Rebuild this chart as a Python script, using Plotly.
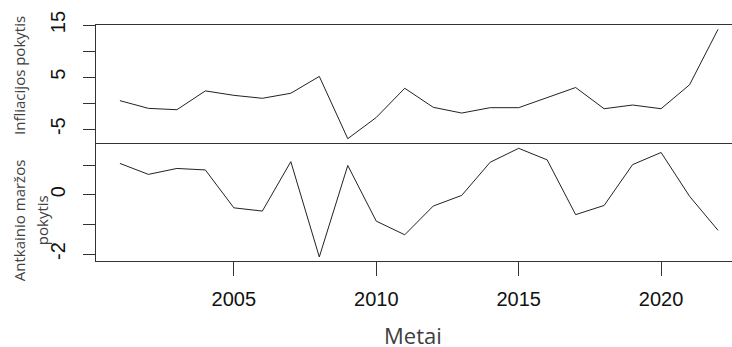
import plotly.graph_objects as go

# Annual series, 2001-2022
years = list(range(2001, 2023))
infliacija = [0.48, -1.0, -1.26, 2.35, 1.5, 0.93, 1.9, 5.13, -6.82, -2.75, 2.86,
              -0.8, -1.9, -0.87, -0.87, 1.12, 3.0, -1.07, -0.36, -1.07, 3.52, 14.17]
antkainis = [1.06, 0.69, 0.89, 0.84, -0.44, -0.55, 1.12, -2.1, 0.99, -0.89, -1.35,
             -0.38, -0.02, 1.1, 1.57, 1.18, -0.67, -0.36, 1.02, 1.43, -0.05, -1.2]

x_ticks = [2005, 2010, 2015, 2020]
top_ticks = [-5, 0, 5, 10, 15]
top_labels = ["-5", "", "5", "", "15"]
bot_ticks = [-2, -1, 0, 1]
bot_labels = ["-2", "", "0", ""]

line_col = "#333333"
tick_font = dict(family="Liberation Sans, Arial", size=20, color="#111111")
title_font = dict(family="Open Sans, Noto Sans", size=15, color="#404040")

fig = go.Figure()
fig.add_trace(go.Scatter(x=years, y=infliacija, mode="lines",
                         line=dict(color="#222222", width=1), xaxis="x2", yaxis="y2"))
fig.add_trace(go.Scatter(x=years, y=antkainis, mode="lines",
                         line=dict(color="#222222", width=1), xaxis="x", yaxis="y"))

xr = [2000.16, 2022.49]
fig.update_layout(
    width=732, height=347,
    margin=dict(l=96, r=0, t=25, b=86),
    paper_bgcolor="white", plot_bgcolor="white",
    showlegend=False,
    xaxis=dict(domain=[0, 1], range=xr, anchor="y", showgrid=False, zeroline=False,
               showline=True, linecolor=line_col, linewidth=1, mirror=False,
               ticks="outside", ticklen=14, tickcolor=line_col, tickvals=x_ticks,
               tickfont=tick_font, ticklabelstandoff=6),
    xaxis2=dict(domain=[0, 1], range=xr, anchor="y2", showgrid=False, zeroline=False,
                showline=True, linecolor=line_col, linewidth=1, mirror=True,
                showticklabels=False, ticks=""),
    yaxis=dict(domain=[0, 0.5], range=[-2.236, 1.75], anchor="x", showgrid=False,
               zeroline=False, showline=True, linecolor=line_col, linewidth=1,
               ticks="outside", ticklen=12, tickcolor=line_col,
               tickvals=bot_ticks, ticktext=bot_labels, tickangle=-90,
               tickfont=tick_font, ticklabelstandoff=10),
    yaxis2=dict(domain=[0.5, 1], range=[-7.65, 15.0], anchor="x2", showgrid=False,
                zeroline=False, showline=True, linecolor=line_col, linewidth=1,
                ticks="outside", ticklen=12, tickcolor=line_col,
                tickvals=top_ticks, ticktext=top_labels, tickangle=-90,
                tickfont=tick_font, ticklabelstandoff=10),
)

# Rotated axis titles, placed to the left of the tick labels
fig.add_annotation(text="Infliacijos pokytis", xref="paper", yref="paper",
                   x=0, y=0.784, xshift=-77, textangle=-90, showarrow=False,
                   xanchor="center", yanchor="middle", font=title_font)
fig.add_annotation(text="Antkainio maržos", xref="paper", yref="paper",
                   x=0, y=0.173, xshift=-77, textangle=-90, showarrow=False,
                   xanchor="center", yanchor="middle", font=title_font)
fig.add_annotation(text="pokytis", xref="paper", yref="paper",
                   x=0, y=0.173, xshift=-54, textangle=-90, showarrow=False,
                   xanchor="center", yanchor="middle", font=title_font)
fig.add_annotation(text="Metai", xref="paper", yref="paper",
                   x=0.4985, y=-0.314, showarrow=False,
                   xanchor="center", yanchor="middle",
                   font=dict(family="Open Sans, Noto Sans", size=22, color="#404040"))

fig.write_html("out.html")
